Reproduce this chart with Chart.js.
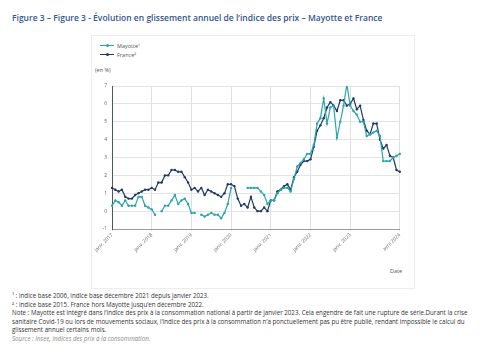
<!DOCTYPE html>
<html><head><meta charset="utf-8">
<script src="https://cdn.jsdelivr.net/npm/chart.js@4.4.1/dist/chart.umd.min.js"></script>
<style>
html,body{margin:0;padding:0;background:#fff;}
body{width:485px;height:360px;position:relative;overflow:hidden;font-family:"Open Sans",sans-serif;}
#title{position:absolute;left:12px;top:12px;font-size:8.5px;font-weight:600;color:#34558b;white-space:nowrap;}
#frame{position:absolute;left:91px;top:35px;width:322px;height:252px;border:1px solid #ececec;}
#legend{position:absolute;left:100px;top:41px;font-size:5.5px;color:#555;}
.li{display:flex;align-items:center;height:9px;}
.sw{position:relative;width:14px;height:1.3px;margin-right:3px;}
.sw i{position:absolute;left:5.5px;top:-0.9px;width:3px;height:3px;border-radius:50%;}
#unit{position:absolute;left:95px;top:66px;font-size:5.5px;color:#555;}
#date{position:absolute;left:390px;top:267px;font-size:5.5px;color:#555;}
#notes{position:absolute;left:12px;top:292px;width:472px;font-size:6.2px;line-height:8.6px;color:#333;white-space:nowrap;}
#notes .src{font-style:italic;color:#888;}
#chartbox{position:absolute;left:90px;top:78px;width:311px;height:181px;}
</style></head>
<body>
<div id="title">Figure 3 – Figure 3 - Évolution en glissement annuel de l’indice des prix – Mayotte et France</div>
<div id="frame"></div>
<div id="legend">
  <div class="li"><span class="sw" style="background:#2aa5ab"><i style="background:#2aa5ab"></i></span>Mayotte¹</div>
  <div class="li"><span class="sw" style="background:#1f3a6b"><i style="background:#1f3a6b"></i></span>France²</div>
</div>
<div id="unit">(en %)</div>
<div id="date">Date</div>
<div id="chartbox"><canvas id="c"></canvas></div>
<div id="notes">
¹ : indice base 2006, indice base décembre 2021 depuis janvier 2023.<br>
² : indice base 2015. France hors Mayotte jusqu’en décembre 2022.<br>
Note : Mayotte est intégré dans l’indice des prix à la consommation national à partir de janvier 2023. Cela engendre de fait une rupture de série.Durant la crise<br>
sanitaire Covid-19 ou lors de mouvements sociaux, l’indice des prix à la consommation n’a ponctuellement pas pu être publié, rendant impossible le calcul du<br>
glissement annuel certains mois.<br>
<span class="src">Source : Insee, indices des prix à la consommation.</span>
</div>
<script>
const moisCourts = ["janv.","févr.","mars","avr.","mai","juin","juil.","août","sept.","oct.","nov.","déc."];
const annees = [2017,2018,2019,2020,2021,2022,2023,2024];
const categories = [];
annees.forEach(a => moisCourts.forEach((m,i) => { if (a < 2024 || i < 4) categories.push(m + " " + a); }));

const tickLabels = {
  "janv. 2017":"janv. 2017","janv. 2018":"janv. 2018","janv. 2019":"janv. 2019",
  "janv. 2020":"janv. 2020","janv. 2021":"janv. 2021","janv. 2022":"janv. 2022",
  "janv. 2023":"janv. 2023","avr. 2024":"avril 2024"
};

const mayotte = [
  0.3,0.6,0.5,0.3,0.6,0.3,0.3,0.3,0.8,0.8,0.3,0.2,
  0.1,-0.2,null,0.0,0.3,0.3,0.6,0.9,0.4,0.6,0.7,0.4,
  -0.1,-0.1,null,-0.2,-0.3,-0.2,-0.1,-0.2,-0.2,-0.4,-0.1,0.4,
  1.3,null,null,null,null,1.3,1.3,1.3,1.3,1.1,0.9,0.4,
  0.6,0.6,1.0,1.2,1.3,1.3,1.1,1.8,2.5,2.7,2.9,3.2,
  3.2,3.7,4.9,5.2,6.3,4.9,5.8,5.9,4.1,5.0,5.9,7.1,
  5.9,5.6,5.4,5.0,5.0,4.2,4.3,4.4,4.5,4.2,2.8,2.8,
  2.8,3.0,3.1,3.2
];
const france = [
  1.3,1.2,1.1,1.2,0.8,0.7,0.7,0.9,1.0,1.1,1.2,1.2,
  1.3,1.2,1.6,1.6,2.0,2.0,2.3,2.3,2.2,2.2,1.9,1.6,
  1.2,1.3,1.1,1.3,0.9,1.2,1.1,1.0,0.9,0.8,1.0,1.5,
  1.5,1.4,0.7,0.3,0.4,0.2,0.8,0.2,0.0,0.0,0.2,0.0,
  0.6,0.6,1.1,1.2,1.4,1.5,1.2,1.9,2.2,2.6,2.8,2.8,
  2.9,3.6,4.5,4.8,5.2,5.8,6.1,5.9,5.6,6.2,6.2,5.9,
  6.0,6.3,5.7,5.9,5.1,4.5,4.3,4.9,4.9,4.0,3.5,3.7,
  3.1,3.0,2.3,2.2
];
const yTicks = [-1,0,1,2,3,4,5,6,7];

Chart.defaults.font.family = "'Open Sans', sans-serif";
Chart.defaults.font.size = 5.5;
Chart.defaults.color = "#666";

new Chart(document.getElementById("c"), {
  type: "line",
  data: {
    labels: categories,
    datasets: [
      {label:"Mayotte¹", data: mayotte, borderColor:"#2aa5ab", backgroundColor:"#2aa5ab",
       borderWidth:1.2, pointRadius:1.2, pointHoverRadius:1.2, pointBorderWidth:0, spanGaps:false, tension:0},
      {label:"France²", data: france, borderColor:"#1f3a6b", backgroundColor:"#1f3a6b",
       borderWidth:1.2, pointRadius:1.2, pointHoverRadius:1.2, pointBorderWidth:0, tension:0}
    ]
  },
  options: {
    responsive:true, maintainAspectRatio:false, animation:false,
    layout:{padding:{top:3,right:0,left:0,bottom:0}},
    plugins:{legend:{display:false}, tooltip:{enabled:false}},
    scales:{
      x:{
        offset:false,
        grid:{
          color:(ctx)=> (ctx.tick && tickLabels[categories[ctx.index]]) ? "#dedee3" : "rgba(0,0,0,0)",
          drawTicks:true, tickLength:2, lineWidth:1
        },
        border:{color:"#9a9aa6", width:1},
        ticks:{
          autoSkip:false, maxRotation:45, minRotation:45, padding:1,
          font:{size:5}, color:"#666",
          callback:function(v,i){ return tickLabels[categories[i]] || ""; }
        },
        afterFit:(s)=>{ s.height = 30; s.paddingLeft = 0; s.paddingRight = 0; }
      },
      y:{
        min:-1, max:7,
        afterBuildTicks:(s)=>{ s.ticks = yTicks.map(v=>({value:v})); },
        grid:{color:"#e3e3e8", drawTicks:false},
        border:{color:"#4a5570", width:1},
        ticks:{padding:5, font:{size:5}, color:"#666"},
        afterFit:(s)=>{ s.width = 22; }
      }
    }
  }
});
</script>
</body></html>
